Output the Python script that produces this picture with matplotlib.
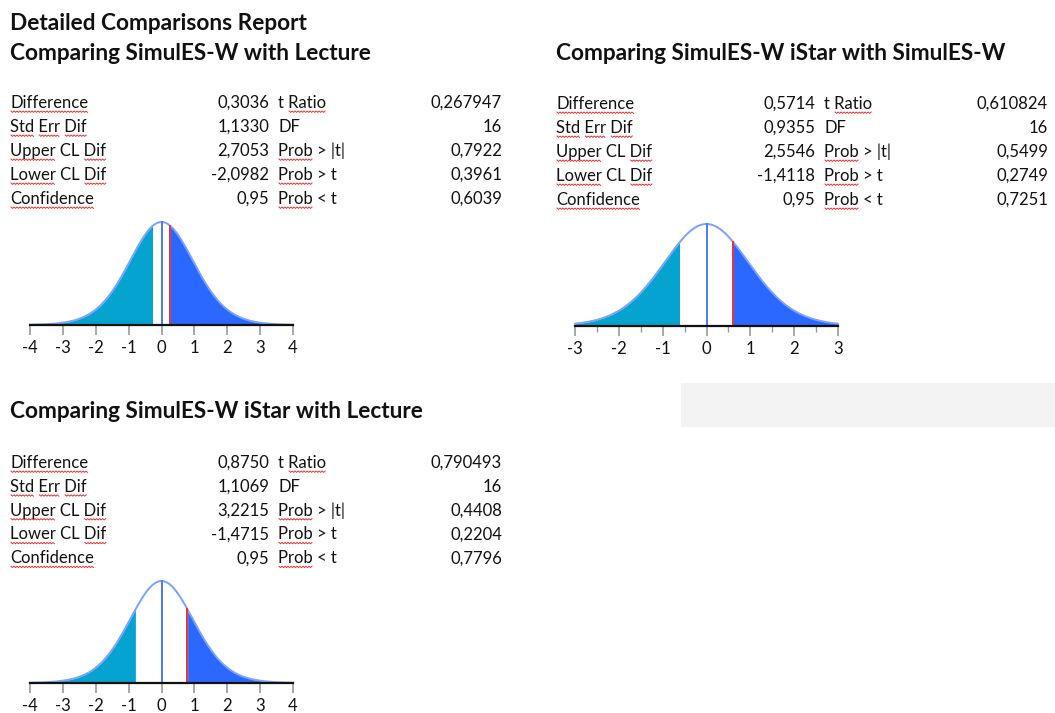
import math
import numpy as np
import matplotlib
matplotlib.use("Agg")
import matplotlib.pyplot as plt
from matplotlib.ticker import MultipleLocator

# report data
report_title = "Detailed Comparisons Report"
panel_titles = ["Comparing SimulES-W with Lecture",
                "Comparing SimulES-W iStar with SimulES-W",
                "Comparing SimulES-W iStar with Lecture"]
stat_labels = ["Difference", "Std Err Dif", "Upper CL Dif", "Lower CL Dif", "Confidence"]
test_labels = ["t Ratio", "DF", "Prob > |t|", "Prob > t", "Prob < t"]

difference = [0.3036, 0.5714, 0.8750]
std_err_dif = [1.1330, 0.9355, 1.1069]
upper_cl = [2.7053, 2.5546, 3.2215]
lower_cl = [-2.0982, -1.4118, -1.4715]
confidence = [0.95, 0.95, 0.95]
t_ratio = [0.267947, 0.610824, 0.790493]
dof = [16, 16, 16]
prob_abs = [0.7922, 0.5499, 0.4408]
prob_gt = [0.3961, 0.2749, 0.2204]
prob_lt = [0.6039, 0.7251, 0.7796]
x_range = [4, 3, 4]

W, H = 1055, 713
FONT = "Lato"
BODY = 12
TITLE = 16.3
SPELL_WORDS = {"Difference", "Std", "Err", "Dif", "Upper", "Lower", "Confidence", "Ratio", "Prob"}

C_LEFT = "#05a3d0"
C_RIGHT = "#2a68ff"
C_CURVE = "#7aa2ff"
C_ZERO = "#4b79ff"
C_T = "#e5323c"

plt.rcParams["axes.unicode_minus"] = False


def t_pdf(x, nu):
    c = math.gamma((nu + 1) / 2) / (math.sqrt(nu * math.pi) * math.gamma(nu / 2))
    return c * (1 + x ** 2 / nu) ** (-(nu + 1) / 2)


def fmt(v, nd):
    return f"{v:.{nd}f}".replace(".", ",")


fig = plt.figure(figsize=(W / 100, H / 100), dpi=100)
bg = fig.add_axes([0, 0, 1, 1])
bg.set_xlim(0, W)
bg.set_ylim(H, 0)
bg.axis("off")
renderer = fig.canvas.get_renderer()


def text_width(s, size):
    t = bg.text(0, 0, s, fontfamily=FONT, fontsize=size)
    w = t.get_window_extent(renderer).width
    t.remove()
    return w


def squiggle(x0, x1, y):
    xs = np.arange(x0, x1 + 0.1, 1.5)
    ys = y + np.where(np.arange(len(xs)) % 2 == 0, 0, 1.4)
    bg.plot(xs, ys, color="#e53030", lw=0.7, solid_joinstyle="miter")


def label(x, y, s, size=BODY):
    bg.text(x, y, s, fontsize=size, fontfamily=FONT, va="baseline", ha="left", color="#111")
    words = s.split(" ")
    for k, word in enumerate(words):
        if word not in SPELL_WORDS:
            continue
        upto = " ".join(words[:k + 1])
        end = text_width(upto, size)
        start = end - text_width(word, size)
        squiggle(x + start + 1, x + end, y + 3)


def value(x, y, s, size=BODY):
    bg.text(x, y, s, fontsize=size, fontfamily=FONT, va="baseline", ha="right", color="#111")


def table(i, x0, xv1, xl2, xv2, y0, dy):
    left_vals = [fmt(difference[i], 4), fmt(std_err_dif[i], 4), fmt(upper_cl[i], 4),
                 fmt(lower_cl[i], 4), fmt(confidence[i], 2)]
    right_vals = [fmt(t_ratio[i], 6), str(dof[i]), fmt(prob_abs[i], 4),
                  fmt(prob_gt[i], 4), fmt(prob_lt[i], 4)]
    for r in range(5):
        y = y0 + r * dy
        label(x0, y, stat_labels[r])
        value(xv1, y, left_vals[r])
        label(xl2, y, test_labels[r])
        value(xv2, y, right_vals[r])


def dist_plot(i, left, right, base, peak):
    nu = dof[i]
    t = t_ratio[i]
    lim = x_range[i]
    ymax = t_pdf(0, nu)
    ax = fig.add_axes([left / W, 1 - base / H, (right - left) / W, (base - peak) / H])
    x = np.linspace(-lim, lim, 600)
    y = t_pdf(x, nu)
    ax.fill_between(x, 0, y, where=x <= -abs(t), color=C_LEFT, lw=0, interpolate=True)
    ax.fill_between(x, 0, y, where=x >= abs(t), color=C_RIGHT, lw=0, interpolate=True)
    ax.plot(x, y, color=C_CURVE, lw=1.4, clip_on=False)
    ax.plot([0, 0], [0, ymax], color=C_ZERO, lw=1.4, clip_on=False)
    ax.plot([t, t], [0, t_pdf(t, nu)], color=C_T, lw=1.4, clip_on=False)
    ax.set_xlim(-lim, lim)
    ax.set_ylim(0, ymax)
    for s in ["top", "left", "right"]:
        ax.spines[s].set_visible(False)
    ax.spines["bottom"].set_color("#111")
    ax.spines["bottom"].set_linewidth(1.6)
    ax.set_yticks([])
    ax.xaxis.set_major_locator(MultipleLocator(1))
    if lim == 3:
        ax.xaxis.set_minor_locator(MultipleLocator(0.5))
    ax.tick_params(axis="x", which="major", length=7, width=1.2, color="#999", pad=4,
                   labelsize=BODY, labelcolor="#111")
    ax.tick_params(axis="x", which="minor", length=4, width=1.0, color="#999")
    for lb in ax.get_xticklabels():
        lb.set_fontfamily(FONT)
    ax.patch.set_alpha(0)


# titles
for (tx, ty, s) in [(10, 24, report_title), (10, 54, panel_titles[0]),
                    (556, 54, panel_titles[1]), (10, 411, panel_titles[2])]:
    bg.text(tx, ty, s, fontsize=TITLE, fontweight="bold", fontfamily=FONT, va="center", color="#111")

# stat tables
table(0, 10, 269, 278, 502, 108, 24)
table(1, 556, 815, 824, 1048, 109, 24)
table(2, 10, 269, 278, 502, 468, 23.8)

# empty grey block
bg.add_patch(plt.Rectangle((681, 383), W - 681, 44, color="#f3f3f3", lw=0))

# t distributions
dist_plot(0, 30, 293, 325, 222)
dist_plot(1, 575, 838, 326, 224)
dist_plot(2, 30, 293, 683, 581)

fig.savefig("out.png", dpi=100)
